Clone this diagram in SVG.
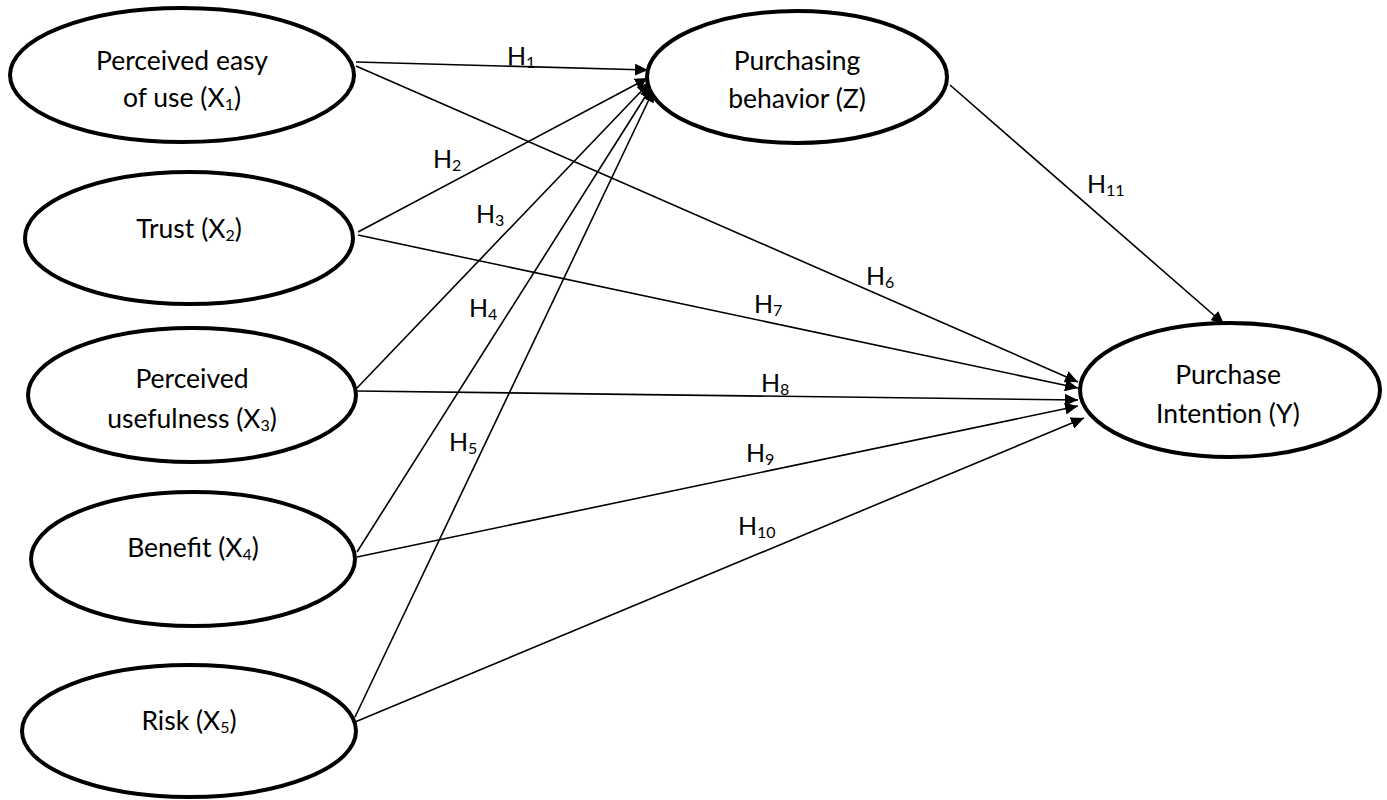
<svg xmlns="http://www.w3.org/2000/svg" width="1387" height="800" viewBox="0 0 1387 800">
<style>
.node ellipse{fill:#fff;stroke:#000;stroke-width:4}
.node text{font-family:Lato,"Liberation Sans",sans-serif;font-size:26.5px;fill:#000;text-anchor:middle}
.lbl{font-family:Lato,"Liberation Sans",sans-serif;font-size:25px;fill:#000}
.sub{font-size:16px}
#connectors line{stroke:#000;stroke-width:1.6;fill:none;marker-end:url(#arr)}
</style>
<defs>
<marker id="arr" markerUnits="userSpaceOnUse" markerWidth="14" markerHeight="12" refX="13" refY="6" orient="auto">
<path d="M0,0 L13,6 L0,12 Z" fill="#000"/>
</marker>
</defs>
<rect width="1387" height="800" fill="#fff"/>
<g id="connectors">
<line x1="356" y1="62" x2="648" y2="70"/>
<line x1="358" y1="232" x2="648" y2="78"/>
<line x1="357" y1="388" x2="650" y2="82"/>
<line x1="357" y1="552" x2="652" y2="86"/>
<line x1="355" y1="717" x2="654" y2="89"/>
<line x1="356" y1="66" x2="1078" y2="382"/>
<line x1="358" y1="235" x2="1078" y2="388"/>
<line x1="357" y1="391" x2="1078" y2="400"/>
<line x1="357" y1="557" x2="1078" y2="406"/>
<line x1="355" y1="722" x2="1084" y2="418"/>
<line x1="950" y1="85" x2="1224" y2="324"/>
</g>
<g id="node-x1" class="node">
<ellipse cx="182" cy="75" rx="172" ry="67"/>
<text x="182" y="70">Perceived easy</text>
<text x="182" y="107">of use (X<tspan class="sub" dy="3">1</tspan><tspan dy="-3">)</tspan></text>
</g>
<g id="node-x2" class="node">
<ellipse cx="189" cy="238" rx="164" ry="66"/>
<text x="189" y="238">Trust (X<tspan class="sub" dy="3">2</tspan><tspan dy="-3">)</tspan></text>
</g>
<g id="node-x3" class="node">
<ellipse cx="192" cy="395" rx="164" ry="67"/>
<text x="192" y="388">Perceived</text>
<text x="192" y="428">usefulness (X<tspan class="sub" dy="3">3</tspan><tspan dy="-3">)</tspan></text>
</g>
<g id="node-x4" class="node">
<ellipse cx="193" cy="559" rx="162" ry="67"/>
<text x="193" y="557">Benefit (X<tspan class="sub" dy="3">4</tspan><tspan dy="-3">)</tspan></text>
</g>
<g id="node-x5" class="node">
<ellipse cx="189" cy="731" rx="167" ry="66"/>
<text x="189" y="730">Risk (X<tspan class="sub" dy="3">5</tspan><tspan dy="-3">)</tspan></text>
</g>
<g id="node-z" class="node">
<ellipse cx="797" cy="77" rx="150" ry="66"/>
<text x="797" y="70">Purchasing</text>
<text x="797" y="108">behavior (Z)</text>
</g>
<g id="node-y" class="node">
<ellipse cx="1230" cy="390" rx="150" ry="67"/>
<text x="1228" y="384">Purchase</text>
<text x="1228" y="423">Intention (Y)</text>
</g>
<g id="labels" class="lbl">
<text x="507" y="65">H<tspan class="sub" dy="3">1</tspan></text>
<text x="433" y="168">H<tspan class="sub" dy="3">2</tspan></text>
<text x="476" y="223">H<tspan class="sub" dy="3">3</tspan></text>
<text x="469" y="317">H<tspan class="sub" dy="3">4</tspan></text>
<text x="449" y="451">H<tspan class="sub" dy="3">5</tspan></text>
<text x="866" y="285">H<tspan class="sub" dy="3">6</tspan></text>
<text x="754" y="313">H<tspan class="sub" dy="3">7</tspan></text>
<text x="761" y="392">H<tspan class="sub" dy="3">8</tspan></text>
<text x="746" y="462">H<tspan class="sub" dy="3">9</tspan></text>
<text x="738" y="535">H<tspan class="sub" dy="3">10</tspan></text>
<text x="1087" y="193">H<tspan class="sub" dy="3">11</tspan></text>
</g>
</svg>
